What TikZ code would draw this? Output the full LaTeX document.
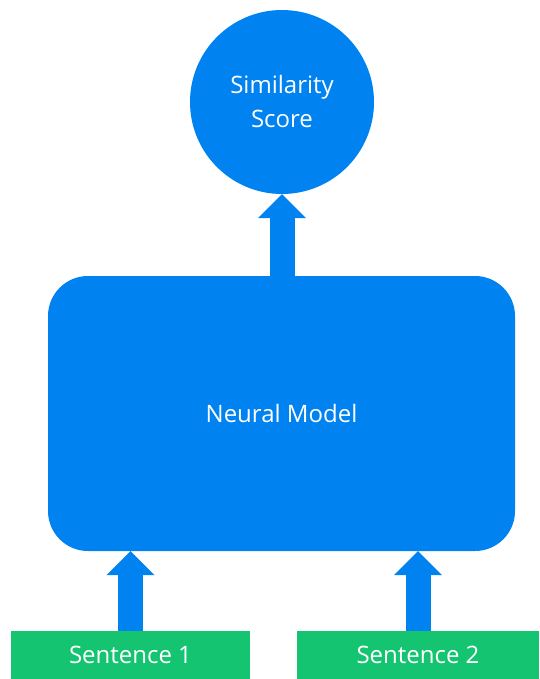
\documentclass[tikz,border=0pt]{standalone}
\usepackage{fontspec}
\setmainfont{Open Sans}
\usetikzlibrary{arrows.meta}
\definecolor{modelblue}{RGB}{0,130,240}
\definecolor{inputgreen}{RGB}{20,196,112}
\tikzset{
  every node/.style={text=white, font=\fontsize{24}{29}\selectfont, inner sep=0pt},
  scorenode/.style={circle, fill=modelblue, minimum size=184pt, align=center},
  modelnode/.style={rectangle, rounded corners=40pt, fill=modelblue, minimum width=467pt, minimum height=275pt},
  sentnode/.style={rectangle, fill=inputgreen, minimum height=48pt},
  blockarrow/.style={draw=modelblue, line width=25pt,
    -{Triangle[width=48pt, length=24pt, line width=0pt, fill=modelblue]}},
}
\begin{document}
\begin{tikzpicture}[x=1pt, y=-1pt]
  \useasboundingbox (0,0) rectangle (539,679);
  % output: similarity score
  \node[scorenode] (score) at (282,102) {Similarity\\[5pt]Score};
  % encoder block
  \node[modelnode] (model) at (281.5,413.5) {Neural Model};
  % inputs
  \node[sentnode, minimum width=239pt] (s1) at (130.5,655) {Sentence 1};
  \node[sentnode, minimum width=242pt] (s2) at (418,655) {Sentence 2};
  % data flow
  \draw[blockarrow] (s1.north) -- (s1.north |- model.south);
  \draw[blockarrow] (s2.north) -- (s2.north |- model.south);
  \draw[blockarrow] (model.north -| score.south) -- (score.south);
\end{tikzpicture}
\end{document}
